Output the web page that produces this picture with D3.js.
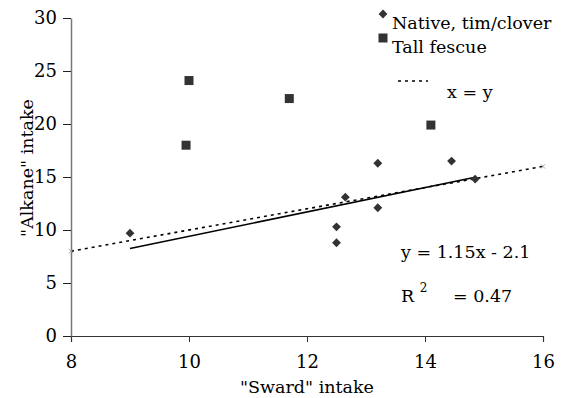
<!DOCTYPE html>
<html>
<head>
<meta charset="utf-8">
<script src="https://cdn.jsdelivr.net/npm/d3@7"></script>
<style>
  body { margin: 0; background: #fff; }
  svg text { font-family: "DejaVu Serif", serif; fill: #000; }
</style>
</head>
<body>
<div id="chart"></div>
<script>
// data
const nativeX = [9.0, 12.5, 12.5, 12.65, 13.2, 13.2, 14.45, 14.85];
const nativeY = [9.7, 10.3, 8.8, 13.1, 16.3, 12.1, 16.5, 14.8];
const fescueX = [9.95, 10.0, 11.7, 14.1];
const fescueY = [18.0, 24.1, 22.4, 19.9];
const xTicks = [8, 10, 12, 14, 16];
const yTicks = [0, 5, 10, 15, 20, 25, 30];
const fitSlope = 1.15, fitIntercept = -2.1;
const identityX = [8, 16];

const width = 569, height = 398;
const margin = { left: 71, right: 26, top: 18, bottom: 62 };
const fs = 17.5;

const svg = d3.select('#chart')
    .append('svg')
    .attr('width', width)
    .attr('height', height);

const x = d3.scaleLinear().domain([8, 16]).range([margin.left, width - margin.right]);
const y = d3.scaleLinear().domain([0, 30]).range([height - margin.bottom, margin.top]);

// axes
const xAxis = svg.append('g')
    .attr('transform', `translate(0,${y(0)})`)
    .call(d3.axisBottom(x).tickValues(xTicks).tickSize(6).tickPadding(13).tickFormat(d3.format('d')));
xAxis.attr('font-family', null);
xAxis.select('.domain').attr('stroke', '#333').attr('stroke-width', 1.2);
xAxis.selectAll('.tick line').attr('stroke', '#333');
xAxis.selectAll('text').attr('font-size', 18);

const yAxis = svg.append('g')
    .attr('transform', `translate(${x(8)},0)`)
    .call(d3.axisLeft(y).tickValues(yTicks).tickSize(8).tickPadding(6).tickSizeOuter(0));
yAxis.attr('font-family', null);
yAxis.select('.domain').attr('stroke', '#777').attr('stroke-width', 1.5);
yAxis.selectAll('.tick line').attr('stroke', '#222');
yAxis.selectAll('text').attr('font-size', 18);

// axis titles
svg.append('text')
    .attr('x', 307)
    .attr('y', 393)
    .attr('text-anchor', 'middle')
    .attr('font-size', fs)
    .text('"Sward" intake');

svg.append('text')
    .attr('transform', 'translate(33,168) rotate(-90)')
    .attr('text-anchor', 'middle')
    .attr('font-size', fs)
    .text('"Alkane" intake');

// x = y line
const line = d3.line().x(d => x(d)).y(d => y(d));
svg.append('path')
    .attr('d', line(identityX))
    .attr('fill', 'none')
    .attr('stroke', '#000')
    .attr('stroke-width', 1.6)
    .attr('stroke-dasharray', '3,4');

const cross = d3.symbol().type(d3.symbolX).size(14);
svg.selectAll('.xmark')
    .data(identityX)
    .enter()
    .append('path')
    .attr('class', 'xmark')
    .attr('d', cross)
    .attr('transform', d => `translate(${x(d)},${y(d)})`)
    .attr('stroke', '#aaa')
    .attr('stroke-width', 1)
    .attr('fill', 'none');

// regression line over the native range
const fitX = d3.extent(nativeX);
svg.append('path')
    .attr('d', d3.line().x(d => x(d)).y(d => y(fitSlope * d + fitIntercept))(fitX))
    .attr('fill', 'none')
    .attr('stroke', '#000')
    .attr('stroke-width', 1.6);

// points
const diamond = d3.symbol().type(d3.symbolDiamond2).size(50);
svg.selectAll('.native')
    .data(nativeX)
    .enter()
    .append('path')
    .attr('class', 'native')
    .attr('d', diamond)
    .attr('transform', (d, i) => `translate(${x(d)},${y(nativeY[i])})`)
    .attr('fill', '#333');

svg.selectAll('.fescue')
    .data(fescueX)
    .enter()
    .append('rect')
    .attr('class', 'fescue')
    .attr('x', d => x(d) - 4.5)
    .attr('y', (d, i) => y(fescueY[i]) - 4.5)
    .attr('width', 9)
    .attr('height', 9)
    .attr('fill', '#333');

// legend
svg.append('path')
    .attr('d', diamond)
    .attr('transform', 'translate(383,14)')
    .attr('fill', '#333');
svg.append('text').attr('x', 392).attr('y', 29).attr('font-size', fs).text('Native, tim/clover');

svg.append('rect')
    .attr('x', 378.5).attr('y', 33.5).attr('width', 9).attr('height', 9)
    .attr('fill', '#333');
svg.append('text').attr('x', 392).attr('y', 53).attr('font-size', fs).text('Tall fescue');

svg.append('line')
    .attr('x1', 398).attr('x2', 428).attr('y1', 81).attr('y2', 81)
    .attr('stroke', '#000').attr('stroke-width', 1.6).attr('stroke-dasharray', '3,4');
svg.append('text').attr('x', 447).attr('y', 98).attr('font-size', fs).text('x = y');

// fit annotation
svg.append('text').attr('x', 401).attr('y', 258).attr('font-size', fs).text('y = 1.15x - 2.1');
const r2 = svg.append('text').attr('x', 401).attr('y', 302).attr('font-size', fs);
r2.append('tspan').text('R ');
r2.append('tspan').attr('dy', -10).attr('font-size', 12).text('2');
r2.append('tspan').attr('x', 453).attr('dy', 10).text('= 0.47');
</script>
</body>
</html>
